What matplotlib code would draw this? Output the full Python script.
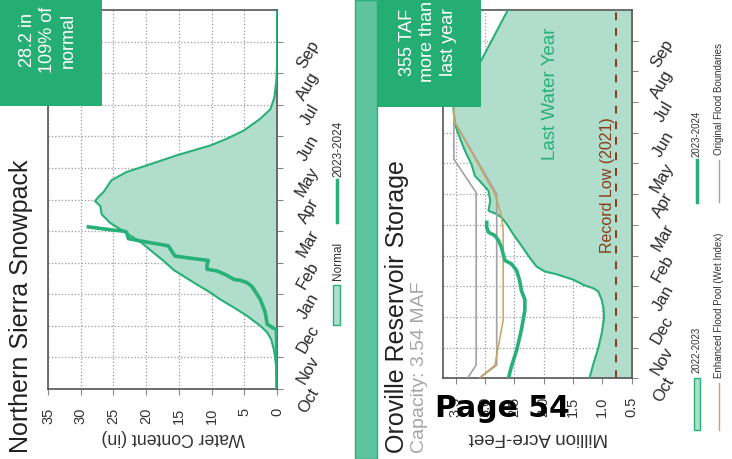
import matplotlib
matplotlib.use('Agg')
import matplotlib.pyplot as plt
from matplotlib.patches import Rectangle
from matplotlib.lines import Line2D

plt.rcParams['font.family'] = ['Liberation Sans', 'DejaVu Sans']

W, H = 732, 459

months = ['Oct', 'Nov', 'Dec', 'Jan', 'Feb', 'Mar', 'Apr', 'May', 'Jun', 'Jul', 'Aug', 'Sep']

# --- Northern Sierra snowpack (time in months since Oct 1, inches) ---
normal_t = [0, 0.53, 1.03, 1.26, 1.58, 1.79, 2.0, 2.32, 2.58, 2.84, 3.03, 3.24, 3.47, 3.77,
            4.05, 4.32, 4.63, 5.0, 5.26, 5.53, 5.79, 5.95, 6.08, 6.24, 6.61, 6.87, 7.08, 7.4,
            7.71, 7.92, 8.18, 8.55, 8.86, 9.23, 9.76, 10.28, 12]
normal_v = [0, 0.05, 0.3, 0.5, 0.9, 1.5, 2.55, 4.6, 6.6, 8.7, 10.0, 11.7, 13.5, 15.8,
            17.3, 18.9, 20.7, 23.5, 25.5, 26.8, 27.0, 27.8, 27.3, 26.5, 25.3, 23.0, 19.9, 15.3,
            10.2, 7.7, 5.1, 2.6, 1.0, 0.4, 0.1, 0, 0]

snow24_t = [0, 0.5, 1.0, 1.5, 1.89, 1.92, 2.05, 2.42, 2.84, 3.0, 3.24, 3.37, 3.44, 3.47, 3.6,
            3.74, 3.79, 3.95, 4.07, 4.13, 4.21, 4.37, 4.53, 4.58, 4.68, 4.76, 4.97, 5.0, 5.03, 5.14]
snow24_v = [0, 0, 0.05, 0.05, 0.1, 0.5, 1.5, 1.8, 2.55, 3.06, 3.8, 4.6, 5.6, 6.6, 7.65,
            9.2, 10.7, 10.7, 10.5, 12.8, 15.6, 16.1, 16.6, 17.9, 20.7, 22.7, 23.0, 23.5, 25.0, 29.1]

# --- Oroville reservoir storage (million acre-feet) ---
last_t = [0, 0.49, 0.98, 1.47, 1.96, 2.28, 2.55, 2.83, 2.93, 3.04, 3.21, 3.39, 3.48, 3.64,
          3.91, 4.38, 4.7, 5.03, 5.24, 5.35, 5.46, 5.78, 6.11, 6.43, 6.59, 6.97, 7.41, 7.84,
          8.27, 8.8, 9.5, 10.3, 12]
last_v = [1.22, 1.15, 1.07, 1.01, 0.97, 0.98, 1.01, 1.07, 1.15, 1.32, 1.49, 1.78, 1.98, 2.12,
          2.23, 2.40, 2.52, 2.63, 2.72, 2.80, 2.94, 2.91, 2.94, 3.09, 3.17, 3.23, 3.34, 3.43,
          3.51, 3.54, 3.35, 3.08, 2.61]

res24_t = [0, 0.38, 0.92, 1.57, 2.22, 2.56, 2.86, 3.19, 3.51, 3.73, 3.84, 4.05, 4.27, 4.49,
           4.65, 4.76, 4.92, 5.08]
res24_v = [2.60, 2.55, 2.46, 2.38, 2.32, 2.32, 2.38, 2.41, 2.46, 2.55, 2.66, 2.69, 2.72, 2.77,
           2.83, 2.94, 2.97, 2.97]

enh_t = [0, 0.43, 1.89, 4.81, 5.3, 6.0, 8.4, 12]
enh_v = [3.10, 2.83, 2.69, 2.69, 2.72, 2.83, 3.53, 3.53]

orig_outer_t = [0, 0.43, 6.05, 7.14, 12]
orig_outer_v = [3.30, 3.15, 3.15, 3.53, 3.53]
orig_inner_t = [0, 0.43, 6.0, 8.4, 12]
orig_inner_v = [3.10, 2.80, 2.80, 3.53, 3.53]

record_low = 0.77

green = '#27b077'
light = '#b0ddcc'
boxgreen = '#24ae73'
tan = '#c9a463'
gray = '#a3a3a3'
brown = '#8a3a18'
txt = '#333333'


def fx(x):
    return x / W


def fy(y):
    return 1 - y / H


def style_axes(ax, xlim, xticks, xfmt):
    ax.set_xlim(*xlim)
    ax.set_ylim(0, 12)
    ax.set_axisbelow(True)
    ax.grid(True, linestyle=':', color='#9a9a9a', lw=0.9)
    ax.set_xticks(xticks, [xfmt(v) for v in xticks])
    ax.set_yticks(range(12), months)
    ax.tick_params(axis='x', direction='out', length=4.5, color='#888888', pad=9,
                   labelrotation=90, labelsize=10.5, labelcolor=txt)
    ax.tick_params(axis='y', direction='out', length=4.5, color='#888888', left=False,
                   right=True, labelleft=False, labelright=True, pad=23,
                   labelsize=12, labelcolor='#2a2a2a')
    for lbl in ax.get_yticklabels():
        lbl.set_rotation(60)
        lbl.set_ha('right')
        lbl.set_va('center')
        lbl.set_rotation_mode('anchor')
    for s in ax.spines.values():
        s.set_color('#555555')
        s.set_linewidth(1.2)


fig = plt.figure(figsize=(W / 100, H / 100), dpi=100)
fig.patch.set_facecolor('white')

# snowpack panel
ax1 = fig.add_axes([fx(48), fy(389), 229 / W, 379 / H])
style_axes(ax1, (35, 0), list(range(0, 36, 5)), lambda v: str(v))
ax1.fill_betweenx(normal_t, normal_v, 0, color=light, lw=0, zorder=2)
ax1.plot(normal_v, normal_t, color=green, lw=1.5, zorder=3)
ax1.plot(snow24_v, snow24_t, color=green, lw=2.6, zorder=4, solid_capstyle='butt')
ax1.set_xlabel('Water Content (in)', rotation=180, fontsize=12.7, color=txt, va='center')
ax1.xaxis.set_label_coords(0.548, -0.129)

# reservoir panel
ax2 = fig.add_axes([fx(443.3), fy(378.3), 188.4 / W, 368.3 / H])
style_axes(ax2, (3.71, 0.5), [0.5, 1.0, 1.5, 2.0, 2.5, 3.0, 3.5], lambda v: '%.1f' % v)
ax2.fill_betweenx(last_t, last_v, 0, color=light, lw=0, zorder=2)
ax2.plot(last_v, last_t, color=green, lw=1.5, zorder=3)
ax2.plot(orig_outer_v, orig_outer_t, color=gray, lw=1.2, zorder=3)
ax2.plot(orig_inner_v, orig_inner_t, color=gray, lw=1.2, zorder=3)
ax2.plot(enh_v, enh_t, color=tan, lw=1.1, zorder=3)
ax2.plot(res24_v, res24_t, color=green, lw=2.6, zorder=4)
ax2.axvline(record_low, color=brown, lw=1.4, ls=(0, (4, 4)), zorder=3)
ax2.text(0.913, 6.3, 'Record Low (2021)', rotation=90, ha='center', va='center',
         color=brown, fontsize=11.5, zorder=5)
ax2.text(1.89, 9.27, 'Last Water Year', rotation=90, ha='center', va='center',
         color=green, fontsize=13.5, zorder=5)
ax2.set_xlabel('Million Acre-Feet', rotation=180, fontsize=13.5, color=txt, va='center')
ax2.xaxis.set_label_coords(0.503, -0.16)

# separator bar and callout boxes
fig.add_artist(Rectangle((fx(355), 0), 22 / W, 1, transform=fig.transFigure,
                         facecolor='#5ec49f', edgecolor='#2caf79', lw=1, zorder=10))
fig.add_artist(Rectangle((0, fy(106)), 102 / W, 106 / H, transform=fig.transFigure,
                         facecolor=boxgreen, lw=0, zorder=10))
fig.add_artist(Rectangle((fx(377), fy(107)), 104 / W, 107 / H, transform=fig.transFigure,
                         facecolor=boxgreen, lw=0, zorder=10))
fig.text(fx(48), fy(40), '28.2 in\n109% of\nnormal', rotation=90, ha='center', va='center',
         multialignment='center', color='white', fontsize=13, linespacing=1.25, zorder=11)
fig.text(fx(428), fy(42), '355 TAF\nmore than\nlast year', rotation=90, ha='center',
         va='center', multialignment='center', color='white', fontsize=13,
         linespacing=1.25, zorder=11)

# titles
fig.text(fx(21), fy(453), 'Northern Sierra Snowpack', rotation=90, ha='center', va='bottom',
         fontsize=18, color='#222222')
fig.text(fx(397), fy(453), 'Oroville Reservoir Storage', rotation=90, ha='center',
         va='bottom', fontsize=18, color='#222222')
fig.text(fx(420), fy(453), 'Capacity: 3.54 MAF', rotation=90, ha='center', va='bottom',
         fontsize=14, color='#a6a6a6')

# snowpack legend
fig.add_artist(Rectangle((fx(333), fy(325)), 7 / W, 40 / H, transform=fig.transFigure,
                         facecolor=light, edgecolor=green, lw=1))
fig.text(fx(337.5), fy(280), 'Normal', rotation=90, ha='center', va='bottom',
         fontsize=8.5, color=txt)
fig.add_artist(Line2D([fx(337), fx(337)], [fy(222), fy(180)], transform=fig.transFigure,
                      color=green, lw=2.5))
fig.text(fx(338), fy(177), '2023-2024', rotation=90, ha='center', va='bottom',
         fontsize=8.5, color=txt)

# reservoir legend
fig.add_artist(Rectangle((fx(694), fy(430)), 6 / W, 52 / H, transform=fig.transFigure,
                         facecolor=light, edgecolor=green, lw=1))
fig.text(fx(697), fy(373), '2022-2023', rotation=90, ha='center', va='bottom',
         fontsize=7, color=txt)
fig.add_artist(Line2D([fx(697), fx(697)], [fy(202), fy(160)], transform=fig.transFigure,
                      color=green, lw=2.5))
fig.text(fx(697), fy(157), '2023-2024', rotation=90, ha='center', va='bottom',
         fontsize=7, color=txt)
fig.add_artist(Line2D([fx(719), fx(719)], [fy(430), fy(383)], transform=fig.transFigure,
                      color=tan, lw=1))
fig.text(fx(719), fy(378), 'Enhanced Flood Pool (Wet Index)', rotation=90, ha='center',
         va='bottom', fontsize=7, color=txt)
fig.add_artist(Line2D([fx(719), fx(719)], [fy(202), fy(160)], transform=fig.transFigure,
                      color=gray, lw=1))
fig.text(fx(719), fy(155), 'Original Flood Boundaries', rotation=90, ha='center',
         va='bottom', fontsize=7, color=txt)

# page stamp
fig.text(fx(502), fy(417), 'Page 54', ha='center', va='baseline', fontsize=21.5,
         fontweight='bold', family='DejaVu Sans', color='black', zorder=12)

fig.savefig('out.png', dpi=100, facecolor='white')
